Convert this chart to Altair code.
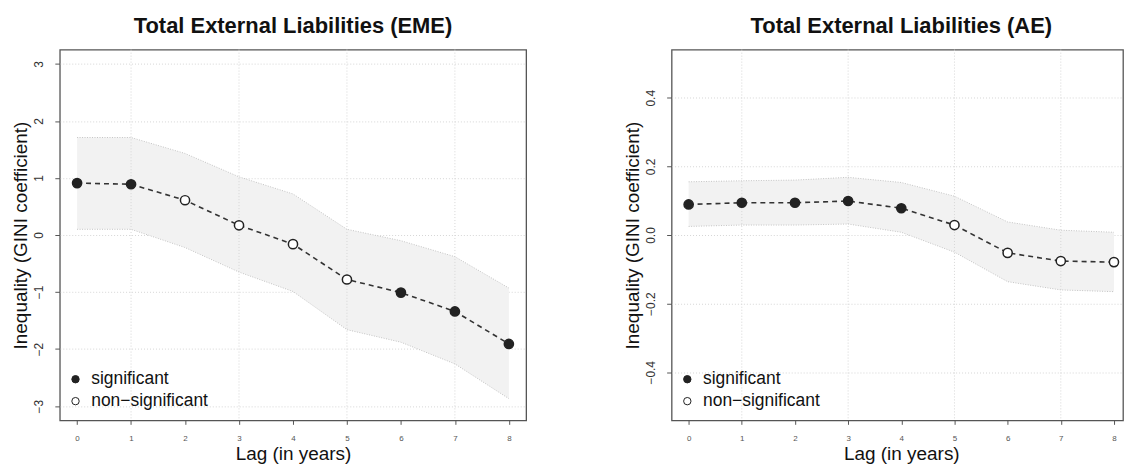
import altair as alt
import pandas as pd

FONT = "Liberation Sans"

lags = [0, 1, 2, 3, 4, 5, 6, 7, 8]

# Emerging market economies (EME)
eme_est = [0.91, 0.89, 0.61, 0.17, -0.16, -0.78, -1.01, -1.34, -1.91]
eme_hi = [1.71, 1.71, 1.43, 1.02, 0.72, 0.10, -0.10, -0.38, -0.93]
eme_lo = [0.10, 0.10, -0.22, -0.65, -0.99, -1.66, -1.88, -2.26, -2.87]
eme_sig = [1, 1, 0, 0, 0, 0, 1, 1, 1]
eme_yticks = [-3, -2, -1, 0, 1, 2, 3]

# Advanced economies (AE)
ae_est = [0.089, 0.094, 0.094, 0.099, 0.078, 0.029, -0.052, -0.076, -0.079]
ae_hi = [0.155, 0.158, 0.160, 0.168, 0.153, 0.113, 0.038, 0.014, 0.008]
ae_lo = [0.025, 0.029, 0.029, 0.032, 0.008, -0.050, -0.136, -0.160, -0.165]
ae_sig = [1, 1, 1, 1, 1, 0, 0, 0, 0]
ae_yticks = [-0.4, -0.2, 0.0, 0.2, 0.4]

sig_labels = ["significant", "non\u2212significant"]
odd_lags = [1, 3, 5, 7]

H = 372


def panel(title, est, lo, hi, sig, ydomain, yticks, yfmt, width, xmax):
    df = pd.DataFrame({
        "lag": lags, "est": est, "lo": lo, "hi": hi,
        "sig": [sig_labels[0] if s else sig_labels[1] for s in sig],
    })
    # full (uncropped) panel width, used to centre titles as in the original
    full_w = width * 8.64 / (xmax + 0.32)
    xscale = alt.Scale(domain=[-0.32, xmax], nice=False, zero=False)
    yscale = alt.Scale(domain=ydomain, nice=False, zero=False)
    xaxis = alt.Axis(
        values=lags, title="Lag (in years)", titleFont=FONT, titleFontSize=19,
        titleFontWeight="normal", titleColor="#111", titleX=full_w / 2, titleY=39,
        titleBaseline="alphabetic", labelFont=FONT, labelFontSize=8, labelColor="#555",
        tickSize=4, tickColor="#555", labelPadding=10, domain=False, grid=False,
    )
    yaxis = alt.Axis(
        values=yticks, format=yfmt, title="Inequality (GINI coefficient)",
        titleFont=FONT, titleFontSize=19, titleFontWeight="normal", titleColor="#111",
        titleX=-39, titleY=H / 2, titleBaseline="middle", titleAngle=270,
        labelFont=FONT, labelFontSize=12, labelColor="#333", labelAngle=270,
        tickSize=5, tickColor="#555", labelPadding=9, domain=False,
        grid=True, gridColor="#d6d6d6", gridDash=[1, 2],
        minExtent=51, maxExtent=51,
    )

    def X(f="lag"):
        return alt.X(f"{f}:Q", scale=xscale, axis=xaxis)

    def Y(f):
        return alt.Y(f"{f}:Q", scale=yscale, axis=yaxis)

    base = alt.Chart(df)
    vgrid = alt.Chart(pd.DataFrame({"g": odd_lags})).mark_rule(
        color="#d6d6d6", strokeDash=[1, 2], strokeWidth=1
    ).encode(x=alt.X("g:Q", scale=xscale, axis=xaxis))
    band = base.mark_area(color="#f2f2f2").encode(x=X(), y=Y("lo"), y2="hi")
    up = base.mark_line(color="#c4c4c4", strokeDash=[1, 1.5], strokeWidth=1).encode(x=X(), y=Y("hi"))
    dn = base.mark_line(color="#c4c4c4", strokeDash=[1, 1.5], strokeWidth=1).encode(x=X(), y=Y("lo"))
    line = base.mark_line(color="#333", strokeDash=[5, 4], strokeWidth=1.6).encode(x=X(), y=Y("est"))
    pts = base.mark_point(
        shape="circle", filled=True, size=85, stroke="#222", strokeWidth=1.5, opacity=1
    ).encode(
        x=X(), y=Y("est"),
        fill=alt.Fill(
            "sig:N",
            scale=alt.Scale(domain=sig_labels, range=["#222222", "#ffffff"]),
            legend=alt.Legend(
                title=None, orient="none", legendX=7, legendY=322, padding=0,
                labelFont=FONT, labelFontSize=17.5, labelColor="#111", labelOffset=7,
                symbolType="circle", symbolSize=55, symbolStrokeColor="#222",
                symbolStrokeWidth=1, rowPadding=3,
            ),
        ),
    )
    return alt.layer(band, vgrid, up, dn, line, pts).properties(
        width=width, height=H,
        title=alt.Title(title, font=FONT, fontSize=22, fontWeight="bold", color="#111",
                        offset=11, anchor="middle", dx=(full_w - width) / 2),
    )


left = panel("Total External Liabilities (EME)", eme_est, eme_lo, eme_hi, eme_sig,
             [-3.25, 3.25], eme_yticks, "d", 468, 8.32)
right = panel("Total External Liabilities (AE)", ae_est, ae_lo, ae_hi, ae_sig,
              [-0.54, 0.54], ae_yticks, ".1f", 453, 8.17)

chart = alt.hconcat(left, right, spacing=93).resolve_scale(
    fill="independent"
).resolve_legend(fill="independent").properties(
    padding={"left": 0, "top": 5, "right": 0, "bottom": 0}
).configure_view(stroke="#555", strokeWidth=1.3)

chart.save("out.html", embed_options={"renderer": "svg", "actions": False})
